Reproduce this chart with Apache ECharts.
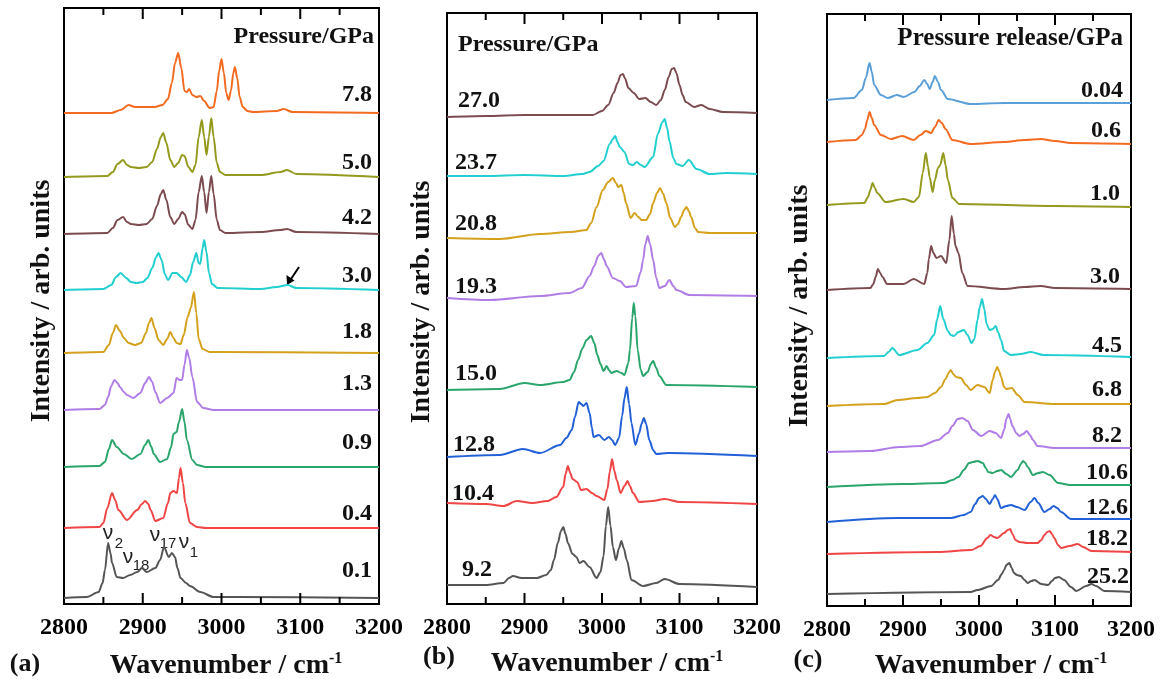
<!DOCTYPE html>
<html><head><meta charset="utf-8">
<script src="https://cdn.jsdelivr.net/npm/echarts@6/dist/echarts.min.js"></script>
<style>html,body{margin:0;padding:0;background:#fff}#c{width:1162px;height:679px;background:#fff}</style>
</head><body><div id="c"></div>
<script>
// ---------- DATA (wavenumber cm-1, intensity above own baseline, arb. units) ----------
const xTicks = [2800, 2900, 3000, 3100, 3200];

// Panel (a) compression
const pressuresA = ['7.8','5.0','4.2','3.0','1.8','1.3','0.9','0.4','0.1'];
const a78 = [[2800,0],[2860,0],[2872,3],[2882,8],[2890,6],[2900,6],[2915,6],[2925,8],[2932,14],[2937,30],[2941,50],[2945,60],[2949,45],[2953,22],[2956,21],[2959,24],[2963,18],[2968,16],[2973,17],[2978,12],[2985,5],[2990,6],[2994,22],[2997,42],[3000,54],[3003,40],[3006,20],[3009,13],[3012,22],[3015,40],[3017,46],[3020,35],[3023,16],[3027,6],[3033,2],[3040,1],[3070,2],[3079,4],[3090,1],[3200,0]];
const a50 = [[2800,0],[2855,1],[2862,5],[2868,13],[2875,17],[2880,12],[2885,10],[2895,9],[2905,10],[2912,15],[2918,28],[2923,40],[2926,44],[2930,34],[2935,17],[2940,10],[2945,14],[2950,22],[2953,21],[2958,10],[2963,5],[2967,12],[2971,40],[2975,57],[2978,40],[2981,22],[2984,40],[2987,59],[2990,40],[2994,14],[2998,5],[3005,2],[3050,2],[3075,5],[3083,7],[3095,3],[3200,0]];
const a42 = [[2800,0],[2855,1],[2862,6],[2868,14],[2875,17],[2880,12],[2885,10],[2895,9],[2905,10],[2912,15],[2918,28],[2923,40],[2926,44],[2930,34],[2935,17],[2940,10],[2945,15],[2950,22],[2953,20],[2958,9],[2963,5],[2967,14],[2971,42],[2975,58],[2978,42],[2981,21],[2984,42],[2987,58],[2990,40],[2994,14],[2998,4],[3005,1],[3050,2],[3075,4],[3083,5],[3095,2],[3200,0]];
const a30 = [[2800,0],[2850,1],[2860,5],[2866,13],[2872,17],[2879,12],[2885,8],[2892,7],[2900,8],[2906,12],[2912,22],[2917,33],[2920,37],[2924,30],[2928,16],[2932,10],[2938,17],[2943,17],[2949,13],[2955,8],[2960,15],[2964,28],[2968,37],[2971,27],[2973,26],[2976,42],[2978,50],[2981,38],[2984,17],[2988,6],[2995,2],[3050,1],[3070,3],[3084,5],[3095,2],[3200,0]];
const a18 = [[2800,0],[2850,1],[2857,8],[2862,20],[2866,28],[2871,22],[2876,15],[2882,10],[2890,8],[2898,10],[2904,20],[2908,30],[2911,35],[2915,25],[2920,13],[2926,8],[2931,14],[2935,21],[2939,15],[2943,10],[2948,9],[2952,18],[2957,36],[2961,45],[2965,61],[2968,40],[2971,14],[2976,4],[2985,1],[3200,0]];
const a13 = [[2800,0],[2845,1],[2852,5],[2856,13],[2860,24],[2864,30],[2868,27],[2871,23],[2876,18],[2880,15],[2888,12],[2897,17],[2903,27],[2908,33],[2912,28],[2916,18],[2922,7],[2931,12],[2939,17],[2943,32],[2947,30],[2950,30],[2953,45],[2956,60],[2959,52],[2963,33],[2969,8],[2977,2],[2990,0],[3200,0]];
const a09 = [[2800,0],[2845,1],[2852,5],[2857,18],[2861,27],[2867,20],[2876,13],[2886,8],[2897,13],[2903,22],[2907,27],[2911,20],[2914,13],[2922,5],[2931,8],[2936,20],[2939,33],[2943,35],[2946,45],[2950,58],[2953,45],[2956,27],[2963,7],[2969,2],[2980,0],[3200,0]];
const a04 = [[2800,0],[2845,1],[2850,5],[2855,20],[2861,35],[2865,28],[2869,18],[2880,8],[2893,18],[2899,24],[2903,27],[2907,24],[2910,18],[2916,7],[2926,10],[2932,25],[2935,35],[2939,37],[2943.5,35],[2946,50],[2948,60],[2951,45],[2954,25],[2960,5],[2969,1],[2980,0],[3200,0]];
const a01 = [[2800,0],[2829,1],[2844,6],[2849,15],[2852,28],[2856,55],[2859,45],[2861,35],[2867,21],[2875,20],[2884,23],[2893,26],[2899,30],[2905,26],[2916,30],[2922,38],[2927,51],[2933,41],[2937,45],[2941,41],[2944,30],[2948,20],[2955,15],[2960,12],[2973,6],[2990,1],[3020,1],[3200,0]];

// Panel (b) compression
const pressuresB = ['27.0','23.7','20.8','19.3','15.0','12.8','10.4','9.2'];
const b270 = [[2800,-2],[2850,-1],[2900,0],[2950,0],[2988,0],[3000,4],[3008,10],[3015,22],[3020,32],[3024,40],[3027,41],[3030,36],[3034,27],[3041,22],[3048,16],[3056,17],[3063,13],[3070,10],[3076,15],[3081,25],[3086,38],[3090,46],[3093,47],[3096,42],[3100,30],[3104,20],[3108,13],[3119,8],[3128,10],[3139,6],[3156,3],[3200,2]];
const b237 = [[2800,0],[2850,0],[2900,1],[2950,0],[2975,2],[2984,4],[2995,10],[3002,15],[3010,32],[3014,37],[3017,40],[3020,34],[3023,29],[3029,24],[3035,12],[3040,11],[3045,14],[3050,11],[3055,9],[3066,19],[3072,42],[3078,54],[3081,57],[3084,48],[3087,35],[3092,18],[3096,12],[3104,10],[3112,16],[3122,7],[3139,2],[3160,3],[3200,2]];
const b208 = [[2800,0],[2868,-1],[2920,4],[2960,6],[2980,8],[2986,15],[2993,31],[3001,48],[3008,56],[3014,60],[3018,55],[3021,51],[3025,53],[3028,45],[3031,35],[3037,20],[3042,25],[3047,21],[3051,18],[3057,18],[3062,24],[3066,35],[3071,45],[3075,50],[3079,44],[3083,35],[3088,20],[3094,11],[3098,14],[3102,21],[3106,28],[3109,31],[3112,27],[3115,21],[3120,10],[3124,6],[3139,5],[3200,5]];
const b193 = [[2800,0],[2855,-2],[2920,2],[2958,5],[2974,10],[2984,22],[2990,32],[2995,42],[2999,45],[3003,38],[3006,32],[3014,20],[3023,17],[3031,11],[3044,12],[3050,26],[3053,38],[3056,54],[3059,62],[3062,54],[3066,38],[3070,20],[3074,10],[3081,12],[3087,18],[3092,12],[3096,8],[3113,3],[3200,2]];
const b150 = [[2800,-2],[2868,-1],[2900,5],[2920,3],[2950,6],[2958,8],[2964,16],[2969,28],[2975,40],[2980,48],[2986,52],[2990,45],[2994,33],[2998,24],[3002,17],[3006,22],[3009,18],[3012,15],[3019,17],[3025,15],[3029,13],[3034,25],[3036,38],[3039,70],[3041,85],[3043,72],[3046,38],[3050,18],[3053,12],[3059,16],[3063,24],[3066,27],[3070,20],[3074,12],[3083,3],[3200,1]];
const b128 = [[2800,-1],[2868,1],[2898,7],[2920,3],[2946,11],[2954,18],[2961,26],[2965,39],[2970,54],[2973,52],[2976,50],[2980,53],[2984,43],[2987,28],[2989,19],[2996,21],[3003,16],[3009,19],[3013,16],[3017,11],[3022,18],[3026,40],[3029,58],[3032,69],[3035,52],[3038,33],[3043,11],[3048,23],[3051,32],[3054,38],[3057,32],[3061,16],[3066,6],[3070,2],[3085,3],[3200,0]];
const b104 = [[2800,1],[2850,0],[2873,-2],[2890,3],[2910,1],[2930,3],[2941,7],[2950,17],[2953,30],[2956,38],[2959,31],[2962,25],[2968,22],[2973,14],[2980,15],[2987,11],[2993,8],[3003,4],[3007,15],[3010,32],[3013,45],[3016,33],[3019,24],[3024,11],[3029,18],[3033,23],[3036,18],[3040,11],[3048,2],[3065,3],[3081,5],[3100,2],[3200,0]];
const b092 = [[2800,1],[2850,1],[2873,3],[2880,8],[2885,10],[2896,8],[2916,8],[2928,11],[2934,16],[2938,26],[2943,43],[2947,55],[2950,59],[2953,52],[2956,43],[2962,32],[2967,29],[2971,23],[2976,25],[2984,19],[2993,8],[2998,14],[3002,30],[3005,60],[3008,79],[3011,60],[3014,39],[3018,26],[3022,38],[3025,45],[3028,38],[3032,26],[3038,6],[3053,0],[3070,3],[3081,7],[3100,2],[3200,-1]];

// Panel (c) pressure release
const pressuresC = ['0.04','0.6','1.0','3.0','4.5','6.8','8.2','10.6','12.6','18.2','25.2'];
const c004 = [[2800,0],[2835,2],[2846,10],[2851,22],[2856,37],[2859,28],[2862,15],[2871,5],[2880,2],[2892,5],[2901,3],[2915,8],[2922,14],[2928,20],[2932,16],[2935,11],[2939,18],[2942,24],[2946,18],[2950,10],[2959,1],[2989,-4],[3033,-3],[3200,-3]];
const c06 = [[2800,0],[2838,2],[2846,7],[2850,13],[2853,22],[2856,30],[2859,24],[2862,17],[2871,7],[2884,3],[2899,6],[2914,2],[2923,7],[2930,11],[2937,9],[2942,15],[2947,22],[2951,19],[2956,13],[2965,2],[2989,-2],[3033,0],[3060,2],[3081,3],[3100,1],[3121,-1],[3200,-2]];
const c10 = [[2800,0],[2849,2],[2854,8],[2857,15],[2860,22],[2863,17],[2866,12],[2877,3],[2901,6],[2914,3],[2921,8],[2926,32],[2930,52],[2933,38],[2935,28],[2939,13],[2942,25],[2946,37],[2949,40],[2953,52],[2956,40],[2959,25],[2965,7],[2974,1],[3100,-1],[3200,-2]];
const c30 = [[2800,-1],[2857,1],[2861,5],[2864,12],[2867,20],[2870,16],[2873,12],[2879,5],[2901,5],[2914,10],[2928,5],[2932,16],[2934,30],[2937,43],[2940,36],[2944,31],[2950,33],[2957,26],[2961,49],[2964,73],[2967,55],[2969,43],[2973,36],[2978,16],[2985,3],[3033,0],[3060,2],[3081,3],[3100,1],[3200,0]];
const c45 = [[2800,-1],[2875,1],[2881,5],[2886,9],[2895,2],[2919,7],[2932,14],[2941,22],[2945,38],[2949,51],[2953,38],[2959,26],[2963,22],[2967,21],[2973,25],[2980,27],[2985,22],[2990,14],[2994,18],[2998,37],[3001,50],[3004,58],[3007,48],[3010,33],[3014,27],[3018,28],[3022,31],[3025,25],[3029,17],[3033,6],[3042,2],[3055,3],[3068,5],[3085,2],[3200,0]];
const c68 = [[2800,-1],[2875,1],[2893,5],[2919,7],[2932,8],[2942,12],[2950,18],[2956,26],[2960,32],[2963,35],[2966,31],[2970,28],[2976,27],[2983,20],[2989,15],[2998,20],[3007,18],[3014,12],[3018,25],[3021,33],[3024,38],[3027,33],[3029,28],[3033,18],[3036,16],[3043,17],[3051,10],[3060,3],[3100,1],[3200,1]];
const c82 = [[2800,-3],[2857,-2],[2895,2],[2923,3],[2946,9],[2959,16],[2965,23],[2972,30],[2978,31],[2985,28],[2992,19],[3003,13],[3014,18],[3022,16],[3029,11],[3033,19],[3036,30],[3039,35],[3041,30],[3044,23],[3049,16],[3053,13],[3058,15],[3063,18],[3067,14],[3071,9],[3077,3],[3100,1],[3200,1]];
const c106 = [[2800,-1],[2901,2],[2954,3],[2965,6],[2973,9],[2980,16],[2987,23],[2992,24],[2998,25],[3005,23],[3009,18],[3012,14],[3018,13],[3024,15],[3029,16],[3036,12],[3042,9],[3051,16],[3055,22],[3058,25],[3061,23],[3064,19],[3071,11],[3078,13],[3084,14],[3093,11],[3104,3],[3120,1],[3200,1]];
const c126 = [[2800,-2],[2893,2],[2963,2],[2980,5],[2989,8],[2995,16],[3000,22],[3005,24],[3009,21],[3014,16],[3018,21],[3021,25],[3024,21],[3029,12],[3036,14],[3042,15],[3050,13],[3060,10],[3068,18],[3073,22],[3078,17],[3086,8],[3093,11],[3098,14],[3103,12],[3108,8],[3121,1],[3200,1]];
const c182 = [[2800,-1],[2946,1],[2990,3],[3002,7],[3011,15],[3015,18],[3020,16],[3024,15],[3033,20],[3038,23],[3041,24],[3044,19],[3048,13],[3053,11],[3064,10],[3077,10],[3082,13],[3086,18],[3090,21],[3093,22],[3096,19],[3099,15],[3104,8],[3108,5],[3119,7],[3130,9],[3137,6],[3148,2],[3200,1]];
const c252 = [[2800,-1],[2989,1],[2998,3],[3016,7],[3025,13],[3030,19],[3033,23],[3036,28],[3040,30],[3043,25],[3046,20],[3050,18],[3055,17],[3060,13],[3064,10],[3069,12],[3073,13],[3082,9],[3091,8],[3096,12],[3100,15],[3105,16],[3112,13],[3121,6],[3128,2],[3141,7],[3148,9],[3154,7],[3165,2],[3200,1]];

// ---------- LAYOUT / STYLE ----------
const C = {orange:'#f26b21', olive:'#939a1d', brown:'#7b4b50', cyan:'#22cfd0', gold:'#d3a11c', purple:'#b07ce6',
           green:'#2aa56c', red:'#ef4545', gray:'#555555', blue:'#2160d6', lblue:'#5b9fd8'};
const SERIF = '"Liberation Serif","Times New Roman",serif';
const panels = [
  {left:64, width:315, top:8, height:596, spectra:[a78,a50,a42,a30,a18,a13,a09,a04,a01], names:pressuresA,
   offsets:[491,427,370,314,251,194,137,76,6],
   colors:[C.orange,C.olive,C.brown,C.cyan,C.gold,C.purple,C.green,C.red,C.gray],
   labelX:[372,372,372,372,372,372,372,372,372], labelY:[95,163,218,276,332,384,443,514,571], align:'right'},
  {left:447, width:310, top:13, height:591, spectra:[b270,b237,b208,b193,b150,b128,b104,b092], names:pressuresB,
   offsets:[489,428,366,306,216,148,100,18],
   colors:[C.brown,C.cyan,C.gold,C.purple,C.green,C.blue,C.red,C.gray],
   labelX:[458,455,455,455,455,453,452,462], labelY:[101,163,224,287,374,445,494,570], align:'left'},
  {left:827, width:304, top:14, height:592, spectra:[c004,c06,c10,c30,c45,c68,c82,c106,c126,c182,c252], names:pressuresC,
   offsets:[506,464,401,317,249,201,157,120,86,53,13],
   colors:[C.lblue,C.orange,C.olive,C.brown,C.cyan,C.gold,C.purple,C.green,C.blue,C.red,C.gray],
   labelX:[1123,1121,1120,1120,1122,1122,1122,1128,1128,1128,1129], labelY:[91,131,194,277,346,390,436,473,508,539,577], align:'right'}
];

const xMin = xTicks[0], xMax = xTicks[xTicks.length - 1];
const step = xTicks[1] - xTicks[0];
const tickVals = xTicks.flatMap((v, j) => j < xTicks.length - 1 ? [v, v + step / 2] : [v]);

const mkAxis = (i, extra) => Object.assign({type:'value', gridIndex:i, min:xMin, max:xMax, interval:step,
    splitLine:{show:false}, axisLine:{show:false}, axisTick:{show:false}, minorTick:{show:false}}, extra);

const grid = [], xAxis = [], yAxis = [], series = [], graphic = [];
panels.forEach((p, i) => {
  grid.push({left:p.left, top:p.top, width:p.width, height:p.height, show:true, borderColor:'#000', borderWidth:2, backgroundColor:'transparent'});
  xAxis.push(mkAxis(i, {position:'bottom',
    axisLabel:{show:true, margin:12, color:'#000', fontFamily:'Liberation Serif', fontWeight:'bold', fontSize:24, formatter:v => String(v)}}));
  xAxis.push(mkAxis(i, {position:'top', axisLabel:{show:false}}));
  yAxis.push({type:'value', gridIndex:i, min:0, max:p.height, show:false});
  p.spectra.forEach((s, k) => {
    series.push({type:'line', name:p.names[k], xAxisIndex:2*i, yAxisIndex:i, showSymbol:false, symbol:'none',
      smooth:0.3, smoothMonotone:'x', animation:false,
      lineStyle:{color:p.colors[k], width:2}, itemStyle:{color:p.colors[k]},
      data:s.map(d => [d[0], d[1] + p.offsets[k]])});
    graphic.push({type:'text', x:p.labelX[k], y:p.labelY[k], silent:true,
      style:{text:p.names[k], fill:'#111', font:'bold 24px ' + SERIF, align:p.align, verticalAlign:'middle'}});
  });
});

// Headings inside panels
graphic.push({type:'text', x:374, y:37, style:{text:'Pressure/GPa', fill:'#111', font:'bold 24px ' + SERIF, align:'right', verticalAlign:'middle'}});
graphic.push({type:'text', x:458, y:45, style:{text:'Pressure/GPa', fill:'#111', font:'bold 24px ' + SERIF, align:'left', verticalAlign:'middle'}});
graphic.push({type:'text', x:1123, y:39, style:{text:'Pressure release/GPa', fill:'#111', font:'bold 25px ' + SERIF, align:'right', verticalAlign:'middle'}});

// Axis titles
[[42,301],[422,302],[800,306]].forEach(q => {
  graphic.push({type:'text', x:q[0], y:q[1], rotation:Math.PI/2, style:{text:'Intensity / arb. units', fill:'#111',
    font:'bold 28px ' + SERIF, align:'center', verticalAlign:'middle'}});
});
[[226,666],[607,664],[991,666]].forEach(q => {
  graphic.push({type:'text', x:q[0], y:q[1], style:{text:'{a|Wavenumber / cm}{b|-1}', align:'center', verticalAlign:'middle',
    rich:{a:{fill:'#111', font:'bold 28px ' + SERIF, lineHeight:30}, b:{fill:'#111', font:'bold 16px ' + SERIF, verticalAlign:'top', lineHeight:14}}}});
});
[['(a)',25,664],['(b)',439,657],['(c)',808,660]].forEach(q => {
  graphic.push({type:'text', x:q[1], y:q[2], style:{text:q[0], fill:'#111', font:'bold 26px ' + SERIF, align:'center', verticalAlign:'middle'}});
});

// Mode annotations on the 0.1 GPa spectrum
const SANS = '"Liberation Sans",Arial,sans-serif';
[['ν',108,533,21],['2',119,544,15],['ν',128,557,21],['18',141,566,15],['ν',155,535,21],['17',168,544,15],['ν',184,542,21],['1',194,553,15]]
  .forEach(q => graphic.push({type:'text', x:q[1], y:q[2], style:{text:q[0], fill:'#222', font:q[3] + 'px ' + SANS, align:'center', verticalAlign:'middle'}}));

// Arrow pointing to weak band of the 3.0 GPa spectrum
graphic.push({type:'line', shape:{x1:299, y1:267, x2:291, y2:279}, style:{stroke:'#000', lineWidth:2}});
graphic.push({type:'polygon', shape:{points:[[287,285],[286.5,275],[294.5,280.5]]}, style:{fill:'#000'}});

// Inward tick marks on the bottom and top frame edges (same linear mapping as each grid's value axis)
panels.forEach(p => {
  const bottom = p.top + p.height;
  tickVals.forEach(v => {
    if (v === xMin || v === xMax) return;
    const x = p.left + (v - xMin) / (xMax - xMin) * p.width;
    const len = (v - xMin) % step === 0 ? 11 : 7;
    graphic.push({type:'polygon', silent:true, z:50,
      shape:{points:[[x - 1, bottom], [x + 1, bottom], [x + 1, bottom - len], [x - 1, bottom - len]]}, style:{fill:'#000'}});
    graphic.push({type:'polygon', silent:true, z:50,
      shape:{points:[[x - 1, p.top], [x + 1, p.top], [x + 1, p.top + len], [x - 1, p.top + len]]}, style:{fill:'#000'}});
  });
});

const chart = echarts.init(document.getElementById('c'));
chart.setOption({animation:false, grid, xAxis, yAxis, series, graphic});
</script></body></html>
